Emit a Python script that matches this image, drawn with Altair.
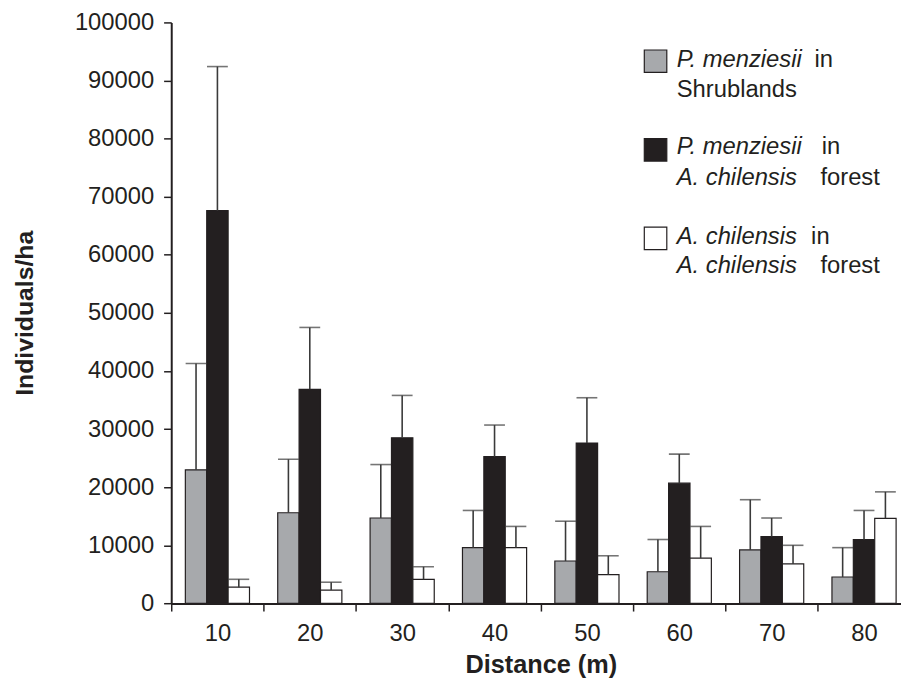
import altair as alt
import pandas as pd

# ---------------- data ----------------
distances = [10, 20, 30, 40, 50, 60, 70, 80]
series_order = ["pm_shrub", "pm_forest", "ac_forest"]

pm_shrub = [23000, 15600, 14700, 9600, 7300, 5450, 9200, 4550]
pm_shrub_upper = [41300, 24800, 23900, 16000, 14150, 11000, 17850, 9600]

pm_forest = [67600, 36850, 28500, 25250, 27600, 20700, 11500, 11000]
pm_forest_upper = [92400, 47500, 35800, 30700, 35400, 25700, 14700, 16000]

ac_forest = [2800, 2300, 4150, 9600, 4950, 7800, 6800, 14650]
ac_forest_upper = [4150, 3650, 6300, 13250, 8200, 13250, 10000, 19200]

y_ticks = [0, 10000, 20000, 30000, 40000, 50000, 60000, 70000, 80000, 90000, 100000]

rows = []
for name, vals, ups in [
    ("pm_shrub", pm_shrub, pm_shrub_upper),
    ("pm_forest", pm_forest, pm_forest_upper),
    ("ac_forest", ac_forest, ac_forest_upper),
]:
    for d, v, u in zip(distances, vals, ups):
        rows.append({"distance": d, "series": name, "value": v, "upper": u})
df = pd.DataFrame(rows)

# ---------------- style ----------------
FONT = "Liberation Sans"
INK = "#231f20"
FILLS = ["#a7a9ac", "#231f20", "#ffffff"]

PLOT_LEFT = 164.7
PLOT_TOP = 11.5
PLOT_W = 736.3
PLOT_H = 586.2
BAND_RANGE = 745.6

x_enc = alt.X(
    "distance:O",
    sort=distances,
    scale=alt.Scale(range=[0, BAND_RANGE], paddingInner=0, paddingOuter=0),
    axis=alt.Axis(
        title="Distance (m)",
        labelAngle=0,
        tickBand="extent",
        tickSize=7.7,
        tickWidth=1.5,
        tickColor=INK,
        domainColor=INK,
        domainWidth=2,
        labelPadding=10.5,
        labelFontSize=24,
        labelFont=FONT,
        labelColor=INK,
        titleFont=FONT,
        titleFontSize=25.5,
        titleFontWeight="bold",
        titleColor=INK,
        titleBaseline="alphabetic",
        titleY=69.5,
        grid=False,
    ),
)
xoff_enc = alt.XOffset(
    "series:N",
    sort=series_order,
    scale=alt.Scale(domain=series_order, paddingInner=0, paddingOuter=0.66),
)
y_scale = alt.Scale(domain=[0, 100000], nice=False, zero=True)
y_axis = alt.Axis(
    title="Individuals/ha",
    values=y_ticks,
    format="d",
    tickSize=7.7,
    tickWidth=1.5,
    tickColor=INK,
    domainColor=INK,
    domainWidth=2,
    labelPadding=10,
    labelFontSize=24,
    labelFont=FONT,
    labelColor=INK,
    titleFont=FONT,
    titleFontSize=25,
    titleFontWeight="bold",
    titleColor=INK,
    titleAngle=270,
    titleAlign="center",
    titleBaseline="alphabetic",
    titleX=-139.7,
    titleY=293,
    grid=False,
)
y_enc = alt.Y("value:Q", scale=y_scale, axis=y_axis)
y_up = alt.Y("upper:Q", scale=y_scale, axis=y_axis)

color_enc = alt.Color(
    "series:N",
    scale=alt.Scale(domain=series_order, range=FILLS),
    legend=None,
)

base = alt.Chart(df)

bars = base.mark_bar(stroke=INK, strokeWidth=1.2).encode(
    x=x_enc, xOffset=xoff_enc, y=y_enc, fill=color_enc
)

err_lines = base.mark_rule(color="#3a3a3a", strokeWidth=1.6).encode(
    x=x_enc, xOffset=xoff_enc, y=y_enc, y2="upper:Q"
)

caps = base.mark_tick(color="#3a3a3a", thickness=1.6, size=21, orient="horizontal").encode(
    x=x_enc, xOffset=xoff_enc, y=y_up
)

# ---------------- custom legend ----------------
one = pd.DataFrame({"k": [0]})


def square(x0, y0, fill):
    return alt.Chart(one).mark_rect(fill=fill, stroke=INK, strokeWidth=1.2).encode(
        x=alt.value(x0), x2=alt.value(x0 + 22.7), y=alt.value(y0), y2=alt.value(y0 + 22.7)
    )


def txt(x0, y0, s, italic=False):
    return alt.Chart(one).mark_text(
        align="left",
        baseline="alphabetic",
        font=FONT,
        fontSize=24,
        fontStyle="italic" if italic else "normal",
        color=INK,
    ).encode(x=alt.value(x0), y=alt.value(y0), text=alt.value(s))


LX = 477.3
TX = 510
legend_layers = [
    square(LX, 27.8, FILLS[0]),
    txt(TX, 45, "P. menziesii", True),
    txt(649, 45, "in"),
    txt(TX, 75.5, "Shrublands"),
    square(LX, 117.2, FILLS[1]),
    txt(TX, 133, "P. menziesii", True),
    txt(656.3, 133, "in"),
    txt(TX, 164.5, "A. chilensis", True),
    txt(655, 164.5, "forest"),
    square(LX, 206.5, FILLS[2]),
    txt(TX, 223.8, "A. chilensis", True),
    txt(645.6, 223.8, "in"),
    txt(TX, 253.3, "A. chilensis", True),
    txt(655, 253.3, "forest"),
]

chart = alt.layer(bars, err_lines, caps, *legend_layers).properties(
    width=PLOT_W,
    height=PLOT_H,
    autosize=alt.AutoSizeParams(type="none"),
    padding={"left": PLOT_LEFT, "top": PLOT_TOP, "right": 0, "bottom": 84},
    background="white",
).configure_view(stroke=None)

chart.save("out.html", embed_options={"renderer": "svg", "actions": False})
